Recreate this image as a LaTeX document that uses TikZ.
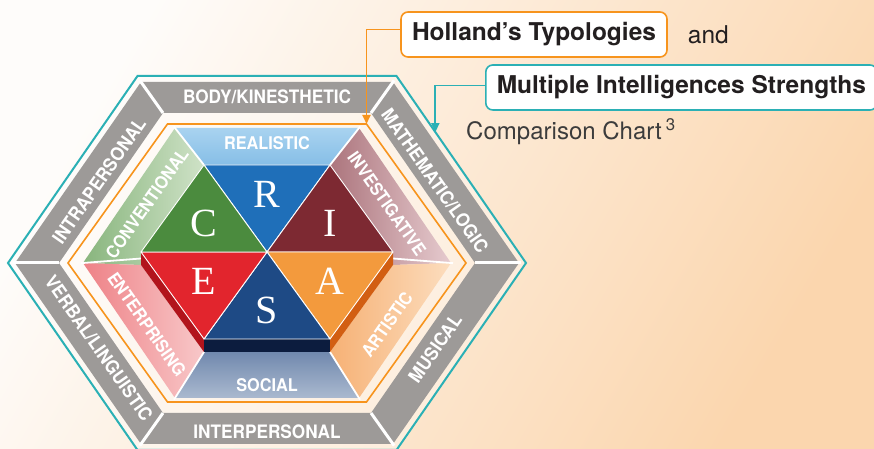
\documentclass[tikz,border=0pt]{standalone}
\usepackage{fontspec}
\setmainfont{Liberation Serif}
\setsansfont{TeX Gyre Heros}
\newfontfamily\condfont{TeX Gyre Heros}[FakeStretch=0.93]
\usetikzlibrary{arrows.meta,positioning,calc}
\definecolor{hexteal}{HTML}{2BB0B5}
\definecolor{hexorange}{HTML}{F7941D}
\definecolor{bandgrey}{HTML}{9D9A98}
\definecolor{bgleft}{HTML}{FEFCFA}
\definecolor{bgright}{HTML}{FBD6AE}
\definecolor{inktext}{HTML}{231F20}
\definecolor{subtext}{HTML}{3C3C3C}
% the six type colours
\definecolor{typeR}{HTML}{1F6FB9}
\definecolor{typeI}{HTML}{7D2932}
\definecolor{typeA}{HTML}{F39A3D}
\definecolor{typeS}{HTML}{1E4A85}
\definecolor{typeE}{HTML}{E2252D}
\definecolor{typeC}{HTML}{4B8B3E}
\definecolor{sideE}{HTML}{B2141C}
\definecolor{sideS}{HTML}{0C1C3E}
\definecolor{sideA}{HTML}{D25E12}
% light band shades
\definecolor{lightRa}{HTML}{A9D3F0}
\definecolor{lightRb}{HTML}{86BEE6}
\definecolor{lightIa}{HTML}{AC757D}
\definecolor{lightIb}{HTML}{E6CBCF}
\definecolor{lightAa}{HTML}{F6B175}
\definecolor{lightAb}{HTML}{FCDDBE}
\definecolor{lightSa}{HTML}{7189AE}
\definecolor{lightSb}{HTML}{AAB9CF}
\definecolor{lightEa}{HTML}{EE8186}
\definecolor{lightEb}{HTML}{F8C8C9}
\definecolor{lightCa}{HTML}{88B57D}
\definecolor{lightCb}{HTML}{CFE2C7}
% corners of a squashed hexagon: name, cx, cy, half width, half height
\newcommand{\hexpts}[5]{%
  \coordinate (#1-0) at ({#2+#4},{#3});
  \coordinate (#1-1) at ({#2+#4/2},{#3+#5});
  \coordinate (#1-2) at ({#2-#4/2},{#3+#5});
  \coordinate (#1-3) at ({#2-#4},{#3});
  \coordinate (#1-4) at ({#2-#4/2},{#3-#5});
  \coordinate (#1-5) at ({#2+#4/2},{#3-#5});}
\tikzset{
  >=Stealth,
  font=\sffamily,
  tealhex/.style={draw=hexteal,line width=2pt,line join=miter},
  orhex/.style={draw=hexorange,line width=1.6pt,line join=miter},
  miband/.style={fill=bandgrey},
  gap/.style={draw=white,line width=3pt,shorten <=-2pt},
  thingap/.style={draw=white,line width=1.8pt,shorten <=-2pt},
  tri/.style={draw=white,line width=0.9pt,line join=round},
  milbl/.style={text=white,font=\condfont\bfseries\fontsize{18.5}{18.5}\selectfont,inner sep=0pt},
  hollbl/.style={text=white,font=\condfont\bfseries\fontsize{17.5}{17.5}\selectfont,inner sep=0pt},
  letter/.style={text=white,font=\rmfamily\fontsize{40}{40}\selectfont,inner sep=0pt},
  titlebox/.style={draw=#1,line width=1.6pt,rounded corners=7pt,fill=white,
                   minimum height=45pt,inner xsep=11pt,text=inktext,
                   font=\sffamily\bfseries\fontsize{24.5}{24.5}\selectfont},
  link/.style={draw=#1,line width=1.8pt,-{Triangle[width=8pt,length=9pt]}},
}
\begin{document}
\begin{tikzpicture}[x=1pt,y=1pt]
  \useasboundingbox (0,0) rectangle (874,449);
  \shade[left color=bgleft,right color=bgright,shading angle=60] (0,0) rectangle (874,449);

  % hexagon corner sets (1pt = 1px, y up)
  \hexpts{te}{267}{186}{259}{187}
  \hexpts{go}{267}{186}{252}{181}
  \hexpts{gi}{267}{186}{208}{150}
  \hexpts{gm}{267}{184.5}{224}{167.5}
  \hexpts{or}{267}{186}{199}{139}
  \hexpts{lo}{267}{186}{184}{135}
  \hexpts{lm}{267}{185}{160}{121}
  \hexpts{tri}{267}{197}{126}{87}
  \hexpts{trd}{267}{184}{126}{87}
  \coordinate (tc) at (267,197);

  % outer frame
  \fill[white,fill opacity=.35] (te-0) \foreach \k in {1,...,5}{-- (te-\k)} -- cycle;
  \draw[tealhex] (te-0) \foreach \k in {1,...,5}{-- (te-\k)} -- cycle;

  % grey ring of intelligences
  \foreach \i/\j in {0/1,1/2,2/3,3/4,4/5,5/0}
    \fill[miband] (go-\i) -- (go-\j) -- (gi-\j) -- (gi-\i) -- cycle;
  \foreach \i in {0,...,5}
    \draw[gap] (go-\i) -- (gi-\i);

  \draw[orhex] (or-0) \foreach \k in {1,...,5}{-- (or-\k)} -- cycle;

  % light ring of types
  \shade[top color=lightRa,bottom color=lightRb] (lo-1) -- (lo-2) -- (tri-2) -- (tri-1) -- cycle;
  \shade[left color=lightCa,right color=lightCb] (lo-2) -- (lo-3) -- (trd-3) -- (tri-3) -- (tri-2) -- cycle;
  \shade[left color=lightIa,right color=lightIb] (lo-0) -- (lo-1) -- (tri-1) -- (tri-0) -- (trd-0) -- cycle;
  \shade[left color=lightEa,right color=lightEb] (lo-3) -- (lo-4) -- (trd-4) -- (trd-3) -- cycle;
  \shade[left color=lightAa,right color=lightAb] (lo-5) -- (lo-0) -- (trd-0) -- (trd-5) -- cycle;
  \shade[top color=lightSa,bottom color=lightSb] (lo-4) -- (lo-5) -- (trd-5) -- (trd-4) -- cycle;
  \draw[thingap] (lo-1) -- (tri-1);
  \draw[thingap] (lo-2) -- (tri-2);
  \draw[thingap] (lo-3) -- ($(tri-3)!.5!(trd-3)$);
  \draw[thingap] (lo-0) -- ($(tri-0)!.5!(trd-0)$);
  \draw[thingap] (lo-4) -- (trd-4);
  \draw[thingap] (lo-5) -- (trd-5);

  % block sides
  \fill[sideE] (tri-3) -- (tri-4) -- (trd-4) -- (trd-3) -- cycle;
  \fill[sideS] (tri-4) -- (tri-5) -- (trd-5) -- (trd-4) -- cycle;
  \fill[sideA] (tri-5) -- (tri-0) -- (trd-0) -- (trd-5) -- cycle;

  % the six triangles
  \filldraw[tri,fill=typeR] (tc) -- (tri-1) -- (tri-2) -- cycle;
  \filldraw[tri,fill=typeI] (tc) -- (tri-0) -- (tri-1) -- cycle;
  \filldraw[tri,fill=typeA] (tc) -- (tri-5) -- (tri-0) -- cycle;
  \filldraw[tri,fill=typeS] (tc) -- (tri-4) -- (tri-5) -- cycle;
  \filldraw[tri,fill=typeE] (tc) -- (tri-3) -- (tri-4) -- cycle;
  \filldraw[tri,fill=typeC] (tc) -- (tri-2) -- (tri-3) -- cycle;

  \node[letter] (letR) at (barycentric cs:tc=1,tri-1=1,tri-2=1) {R};
  \node[letter] (letI) at (barycentric cs:tc=1,tri-0=1,tri-1=1) {I};
  \node[letter] (letA) at (barycentric cs:tc=1,tri-5=1,tri-0=1) {A};
  \node[letter] (letS) at (barycentric cs:tc=1,tri-4=1,tri-5=1) {S};
  \node[letter] (letE) at (barycentric cs:tc=1,tri-3=1,tri-4=1) {E};
  \node[letter] (letC) at (barycentric cs:tc=1,tri-2=1,tri-3=1) {C};

  % type names
  \node[hollbl] (realistic) at ($(lm-1)!.5!(lm-2)$) {REALISTIC};
  \node[hollbl,rotate=-55] (investig) at ($(lm-0)!.5!(lm-1)$) {INVESTIGATIVE};
  \node[hollbl,rotate=55] (artistic) at ($(lm-5)!.5!(lm-0)$) {ARTISTIC};
  \node[hollbl] (social) at ($(lm-4)!.5!(lm-5)$) {SOCIAL};
  \node[hollbl,rotate=-55] (enterpr) at ($(lm-3)!.5!(lm-4)$) {ENTERPRISING};
  \node[hollbl,rotate=55] (convent) at ($(lm-2)!.5!(lm-3)$) {CONVENTIONAL};

  % intelligence names
  \node[milbl] (bodykin) at ($(gm-1)!.5!(gm-2)$) {BODY/KINESTHETIC};
  \node[milbl,rotate=-55] (mathlog) at ($(gm-0)!.5!(gm-1)$) {MATHEMATIC/LOGIC};
  \node[milbl,rotate=55] (musical) at ($(gm-5)!.5!(gm-0)$) {MUSICAL};
  \node[milbl] (interp) at ($(gm-4)!.5!(gm-5)$) {INTERPERSONAL};
  \node[milbl,rotate=-55] (verbal) at ($(gm-3)!.5!(gm-4)$) {VERBAL/LINGUISTIC};
  \node[milbl,rotate=55] (intrap) at ($(gm-2)!.5!(gm-3)$) {INTRAPERSONAL};

  % title
  \node[titlebox=hexorange] (holland) at (534,414.5) {Holland’s Typologies};
  \node[right=20pt of holland,inner sep=0pt,text=inktext,font=\sffamily\fontsize{24.5}{24.5}\selectfont] (and) {and};
  \node[titlebox=hexteal,anchor=west] (mi) at (485,361.5) {Multiple Intelligences Strengths};
  \node[anchor=west,text=subtext,font=\sffamily\fontsize{24}{24}\selectfont,inner sep=0pt]
    (chart) at (466,317) {Comparison Chart\,\textsuperscript{3}};

  \coordinate (mitip) at ($(te-1)!.3!(te-0)$);
  \draw[link=hexorange] ([yshift=5pt]holland.west) -| (or-1);
  \draw[link=hexteal] ([yshift=2pt]mi.west) -| (mitip);
\end{tikzpicture}
\end{document}
